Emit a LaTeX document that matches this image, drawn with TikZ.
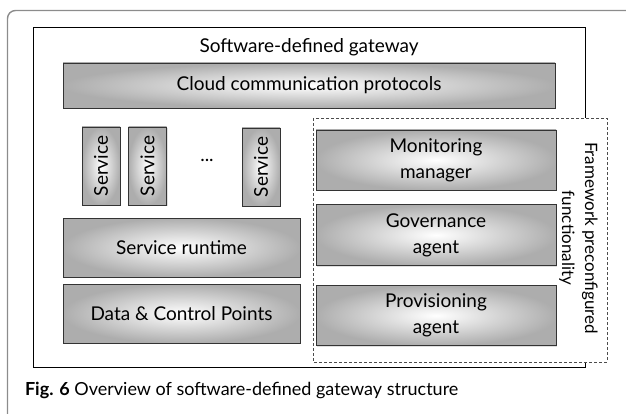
\documentclass[tikz,border=0pt]{standalone}
\usepackage{fontspec}
\setmainfont{Lato}
\usetikzlibrary{shadows}
\tikzset{
  gwblock/.style={draw=black!80, line width=0.7pt, inner color=white,
    outer color=black!32, drop shadow={opacity=0.25, shadow xshift=1.2pt,
    shadow yshift=-1.2pt}, align=center, font=\gwfont},
  gwtext/.style={font=\gwfont, align=center},
}
\newcommand{\gwfont}{\fontsize{19}{26}\selectfont}

\begin{document}
\begin{tikzpicture}[y=1pt, x=1pt, yscale=-1, inner sep=0pt, outer sep=0pt]
  \useasboundingbox (0,0) rectangle (626,414);
  % figure frame
  \path[draw=black!45, line width=1.4pt, rounded corners=8pt]
    (7.5,414) |- (626,10.5);
  % gateway
  \path[draw=black, line width=0.8pt] (33,27) rectangle (585,367);
  \path (309,47) node[gwtext] (gwtitle) {Software-defined gateway};
  \path (309,85.5) node[gwblock, minimum width=492, minimum height=45]
    (cloudproto) {Cloud communication protocols};
  % services
  \path (101,166) node[gwblock, minimum width=38, minimum height=78]
    (service1) {\rotatebox{90}{Service}};
  \path (147.5,166) node[gwblock, minimum width=38, minimum height=78]
    (service2) {\rotatebox{90}{Service}};
  \path (261,167) node[gwblock, minimum width=38, minimum height=78]
    (service3) {\rotatebox{90}{Service}};
  \path (207,160) node[gwtext] (servicedots) {...};
  \path (181.5,247.5) node[gwblock, minimum width=237, minimum height=59]
    (runtime) {Service runtime};
  \path (181.5,313.5) node[gwblock, minimum width=237, minimum height=59]
    (datapoints) {Data \& Control Points};
  % framework functionality
  \path[draw=black!70, line width=0.7pt, dash pattern=on 3pt off 2pt, fill=white]
    (313,118) rectangle (607,362);
  \path (436,160) node[gwblock, minimum width=240, minimum height=60]
    (monitoring) {Monitoring\\manager};
  \path (436,235) node[gwblock, minimum width=240, minimum height=61]
    (governance) {Governance\\agent};
  \path (436,315.5) node[gwblock, minimum width=240, minimum height=60]
    (provisioning) {Provisioning\\agent};
  \path (578.5,238) node[gwtext, rotate=-90, font=\fontsize{17}{23}\selectfont]
    (frameworklabel) {Framework preconfigured\\functionality};
  % caption
  \path (25,390) node[anchor=west, font=\fontsize{18}{20}\selectfont]
    (caption) {\textbf{Fig. 6} Overview of software-defined gateway structure};
\end{tikzpicture}
\end{document}
